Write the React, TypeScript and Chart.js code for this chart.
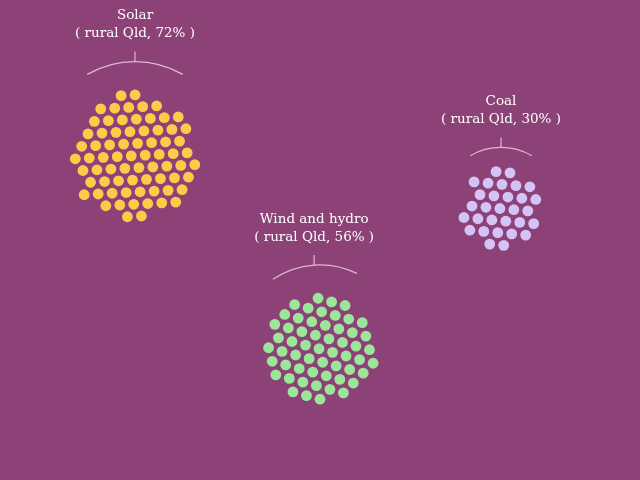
import React, { useEffect, useRef } from "react";
import { Chart, registerables } from "chart.js";

Chart.register(...registerables);

// ---- data ----
const categories = ["Solar", "Wind and hydro", "Coal"];
const regionLabel = "rural Qld";
const sharePercent = [72, 56, 30]; // one dot per percent

// ---- layout / style (not data) ----
const COLORS = ["#FFC94A", "#9BE69B", "#D4C3F7"];
const CENTERS = [
  [135, 157],
  [320, 349],
  [501, 209],
];
const LATTICE_ROT = [-3, 15, 5];
const LABEL_ANGLE = [-90, -94, -90];
const SPACING = 14;
const DOT_RADIUS = 5.4;
const BG = "#8C4276";

function packCluster(n: number, rotDeg: number, cx: number, cy: number) {
  const pts: { x: number; y: number; d: number }[] = [];
  const h = (SPACING * Math.sqrt(3)) / 2;
  const ox = 0.13 * SPACING;
  const oy = 0.07 * SPACING;
  for (let j = -12; j <= 12; j++) {
    for (let i = -14; i <= 14; i++) {
      const x = (i + j / 2) * SPACING;
      const y = j * h;
      const d = Math.hypot(x - ox, y - oy);
      pts.push({ x, y, d });
    }
  }
  pts.sort((a, b) => a.d - b.d);
  const sel = pts.slice(0, n);
  const mx = sel.reduce((s, p) => s + p.x, 0) / n;
  const my = sel.reduce((s, p) => s + p.y, 0) / n;
  const r = (rotDeg * Math.PI) / 180;
  return sel.map((p) => {
    const x = p.x - mx;
    const y = p.y - my;
    return {
      x: cx + x * Math.cos(r) - y * Math.sin(r),
      y: cy + x * Math.sin(r) + y * Math.cos(r),
    };
  });
}

function packRadius(n: number) {
  return Math.sqrt((n * SPACING * SPACING * Math.sqrt(3)) / 2 / Math.PI);
}

const labelPlugin = {
  id: "clusterLabels",
  afterDatasetsDraw(chart: any) {
    const { ctx, scales } = chart;
    const xs = scales.x;
    const ys = scales.y;
    ctx.save();
    categories.forEach((cat, k) => {
      const cx = xs.getPixelForValue(CENTERS[k][0]);
      const cy = ys.getPixelForValue(CENTERS[k][1]);
      const R = packRadius(sharePercent[k]) * 1.53;
      const a = (LABEL_ANGLE[k] * Math.PI) / 180;
      const span = (30 * Math.PI) / 180;
      ctx.strokeStyle = "rgba(235, 205, 228, 0.85)";
      ctx.lineWidth = 1.2;
      ctx.beginPath();
      ctx.arc(cx, cy, R, a - span, a + span);
      ctx.stroke();
      const px = cx + R * Math.cos(a);
      const py = cy + R * Math.sin(a);
      ctx.beginPath();
      ctx.moveTo(px, py);
      ctx.lineTo(px, py - 10);
      ctx.stroke();
      ctx.fillStyle = "#ffffff";
      ctx.font = "13.5px 'DejaVu Serif'";
      ctx.textAlign = "center";
      ctx.textBaseline = "middle";
      ctx.fillText(cat, px, py - 10 - 36);
      ctx.fillText(`( ${regionLabel}, ${sharePercent[k]}% )`, px, py - 10 - 18);
    });
    ctx.restore();
  },
};

export default function App() {
  const ref = useRef<HTMLCanvasElement | null>(null);
  useEffect(() => {
    if (!ref.current) return;
    const chart = new Chart(ref.current, {
      type: "scatter",
      data: {
        datasets: categories.map((cat, k) => ({
          label: cat,
          data: packCluster(sharePercent[k], LATTICE_ROT[k], CENTERS[k][0], CENTERS[k][1]),
          backgroundColor: COLORS[k],
          borderWidth: 0,
          pointRadius: DOT_RADIUS,
          pointHoverRadius: DOT_RADIUS,
        })),
      },
      options: {
        animation: false,
        responsive: true,
        maintainAspectRatio: false,
        layout: { padding: 0, autoPadding: false },
        plugins: { legend: { display: false }, tooltip: { enabled: false } },
        scales: {
          x: { type: "linear", min: 0, max: 640, display: false },
          y: { type: "linear", min: 0, max: 480, reverse: true, display: false },
        },
      },
      plugins: [labelPlugin],
    });
    return () => chart.destroy();
  }, []);
  return (
    <div
      style={{
        position: "fixed",
        left: 0,
        top: 0,
        width: 640,
        height: 480,
        background: BG,
      }}
    >
      <canvas ref={ref} />
    </div>
  );
}
